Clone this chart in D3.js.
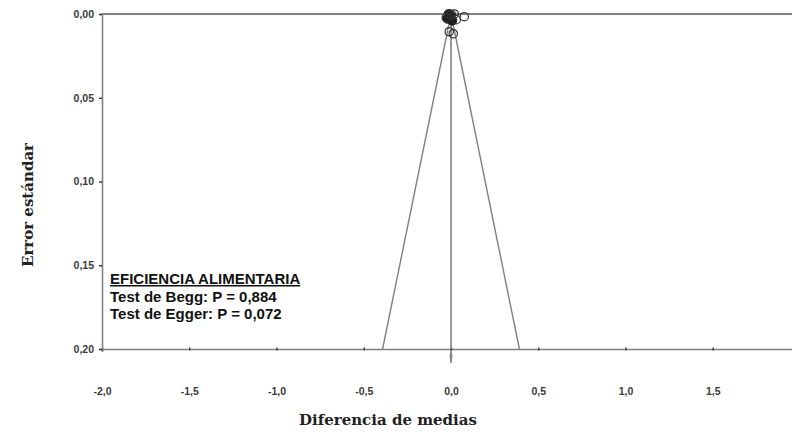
<!DOCTYPE html>
<html>
<head>
<meta charset="utf-8">
<script src="https://cdn.jsdelivr.net/npm/d3@7"></script>
<style>
	html, body { margin: 0; padding: 0; background: #fff; }
	svg { display: block; }
</style>
</head>
<body>
<svg id="chart" width="792" height="432"></svg>
<script>
// Observed studies (mean difference, standard error)
var studyMd = [ -0.015, 0.019, 0.002, 0.076, -0.010, 0.013, 0.030, -0.027 ];
var studySe = [ 0.0000, 0.0000, 0.0004, 0.0016, 0.0106, 0.0118, 0.0034, 0.0022 ];

// Imputed studies (filled circles)
var imputedMd = [ -0.004, -0.021, 0.007, -0.010 ];
var imputedSe = [ 0.0010, 0.0028, 0.0040, 0.0000 ];

// Combined effect
var pooledMd = 0.0;
var pooledLow = -0.004;
var pooledHigh = 0.004;

// Axis ticks
var xTicks = [ -2.0, -1.5, -1.0, -0.5, 0.0, 0.5, 1.0, 1.5, 2.0 ];
var xTickLabels = [ '-2,0', '-1,5', '-1,0', '-0,5', '0,0', '0,5', '1,0', '1,5', '2,0' ];
var yTicks = [ 0.00, 0.05, 0.10, 0.15, 0.20 ];
var yTickLabels = [ '0,00', '0,05', '0,10', '0,15', '0,20' ];

// Annotation
var noteTitle = 'EFICIENCIA ALIMENTARIA';
var noteLines = [ 'Test de Begg: P = 0,884', 'Test de Egger: P = 0,072' ];

var xTitle = 'Diferencia de medias';
var yTitle = 'Error estándar';

var svg = d3.select('#chart');

// plot box (right edge runs past the picture, as in the original crop)
var plotLeft = 102, plotTop = 14, plotRight = 800, plotBottom = 349;

var x = d3.scaleLinear().domain([ -2, 2 ]).range([ plotLeft, plotRight ]);
var y = d3.scaleLinear().domain([ 0, 0.2 ]).range([ plotTop, plotBottom ]);

var lineColor = '#808080';

/**
 * Axes: bottom and left, plus the frame line along the top
 */
var xAxis = d3.axisBottom(x)
	.tickValues(xTicks)
	.tickSize(3)
	.tickPadding(40)
	.tickFormat(function(d, i) { return xTickLabels[i]; });

var yAxis = d3.axisLeft(y)
	.tickValues(yTicks)
	.tickSize(3)
	.tickPadding(5)
	.tickFormat(function(d, i) { return yTickLabels[i]; });

var gx = svg.append('g')
	.attr('transform', 'translate(0,' + plotBottom + ')')
	.call(xAxis);

var gy = svg.append('g')
	.attr('transform', 'translate(' + plotLeft + ',0)')
	.call(yAxis);

[ gx, gy ].forEach(function(g) {
	g.select('.domain')
		.attr('stroke', lineColor)
		.attr('stroke-width', 1.6);
	g.selectAll('.tick line')
		.attr('stroke', '#333')
		.attr('stroke-width', 1.4);
	g.selectAll('.tick text')
		.attr('fill', '#3a3a3a')
		.style('font-family', '"Liberation Sans", Arial, sans-serif')
		.style('font-weight', 'bold')
		.style('font-size', '10.5px');
});

// x ticks sit on both sides of the axis line
gx.selectAll('.tick line').attr('y1', -1.5).attr('y2', 1.5);
gx.selectAll('.tick text').attr('dy', '0.32em');

svg.append('line')
	.attr('x1', x(-2)).attr('x2', x(2))
	.attr('y1', y(0)).attr('y2', y(0))
	.attr('stroke', lineColor)
	.attr('stroke-width', 2);

/**
 * Funnel: pseudo 95% limits around the pooled estimate
 */
var seMax = 0.2;
var funnel = [
	[ pooledMd - 1.96 * seMax, seMax ],
	[ pooledMd, 0 ],
	[ pooledMd + 1.96 * seMax, seMax ]
];

svg.append('path')
	.datum(funnel)
	.attr('d', d3.line()
		.x(function(d) { return x(d[0]); })
		.y(function(d) { return y(d[1]); }))
	.attr('fill', 'none')
	.attr('stroke', lineColor)
	.attr('stroke-width', 1.4);

// Vertical line at the pooled estimate
svg.append('line')
	.attr('x1', x(pooledMd)).attr('x2', x(pooledMd))
	.attr('y1', y(0)).attr('y2', y(seMax))
	.attr('stroke', lineColor)
	.attr('stroke-width', 1.6);

// Diamond for the combined effect below the axis
var dTop = plotBottom + 1, dBot = plotBottom + 14, dMid = (dTop + dBot) / 2;
svg.append('path')
	.attr('d', 'M' + x(pooledMd) + ',' + dTop +
		'L' + (x(pooledHigh) + 0.3) + ',' + dMid +
		'L' + x(pooledMd) + ',' + dBot +
		'L' + (x(pooledLow) - 0.3) + ',' + dMid + 'Z')
	.attr('fill', lineColor)
	.attr('stroke', lineColor)
	.attr('stroke-width', 1);

/**
 * Study points
 */
var studies = studyMd.map(function(d, i) { return { md: d, se: studySe[i] }; });
var imputed = imputedMd.map(function(d, i) { return { md: d, se: imputedSe[i] }; });

svg.append('g').selectAll('circle')
	.data(imputed)
	.enter().append('circle')
	.attr('cx', function(d) { return x(d.md); })
	.attr('cy', function(d) { return y(d.se); })
	.attr('r', 4.5)
	.attr('fill', '#1a1a1a')
	.attr('stroke', '#1a1a1a');

svg.append('g').selectAll('circle')
	.data(studies)
	.enter().append('circle')
	.attr('cx', function(d) { return x(d.md); })
	.attr('cy', function(d) { return y(d.se); })
	.attr('r', 4.2)
	.attr('fill', 'none')
	.attr('stroke', '#333')
	.attr('stroke-width', 1.2);

/**
 * Annotation block
 */
var note = svg.append('g')
	.style('font-family', '"Liberation Sans", Arial, sans-serif')
	.style('font-weight', 'bold')
	.style('font-size', '15px')
	.attr('fill', '#111');

note.append('text')
	.attr('x', 110).attr('y', 284)
	.style('text-decoration', 'underline')
	.text(noteTitle);

note.selectAll('text.line')
	.data(noteLines)
	.enter().append('text')
	.attr('class', 'line')
	.attr('x', 110)
	.attr('y', function(d, i) { return 302 + i * 16.5; })
	.text(function(d) { return d; });

/**
 * Axis titles
 */
svg.append('text')
	.attr('x', 388).attr('y', 425)
	.attr('text-anchor', 'middle')
	.style('font-family', '"DejaVu Serif", serif')
	.style('font-weight', 'bold')
	.style('font-size', '15px')
	.attr('fill', '#222')
	.text(xTitle);

svg.append('text')
	.attr('transform', 'translate(33,205) rotate(-90)')
	.attr('text-anchor', 'middle')
	.style('font-family', '"DejaVu Serif", serif')
	.style('font-weight', 'bold')
	.style('font-size', '15px')
	.attr('fill', '#222')
	.text(yTitle);
</script>
</body>
</html>
